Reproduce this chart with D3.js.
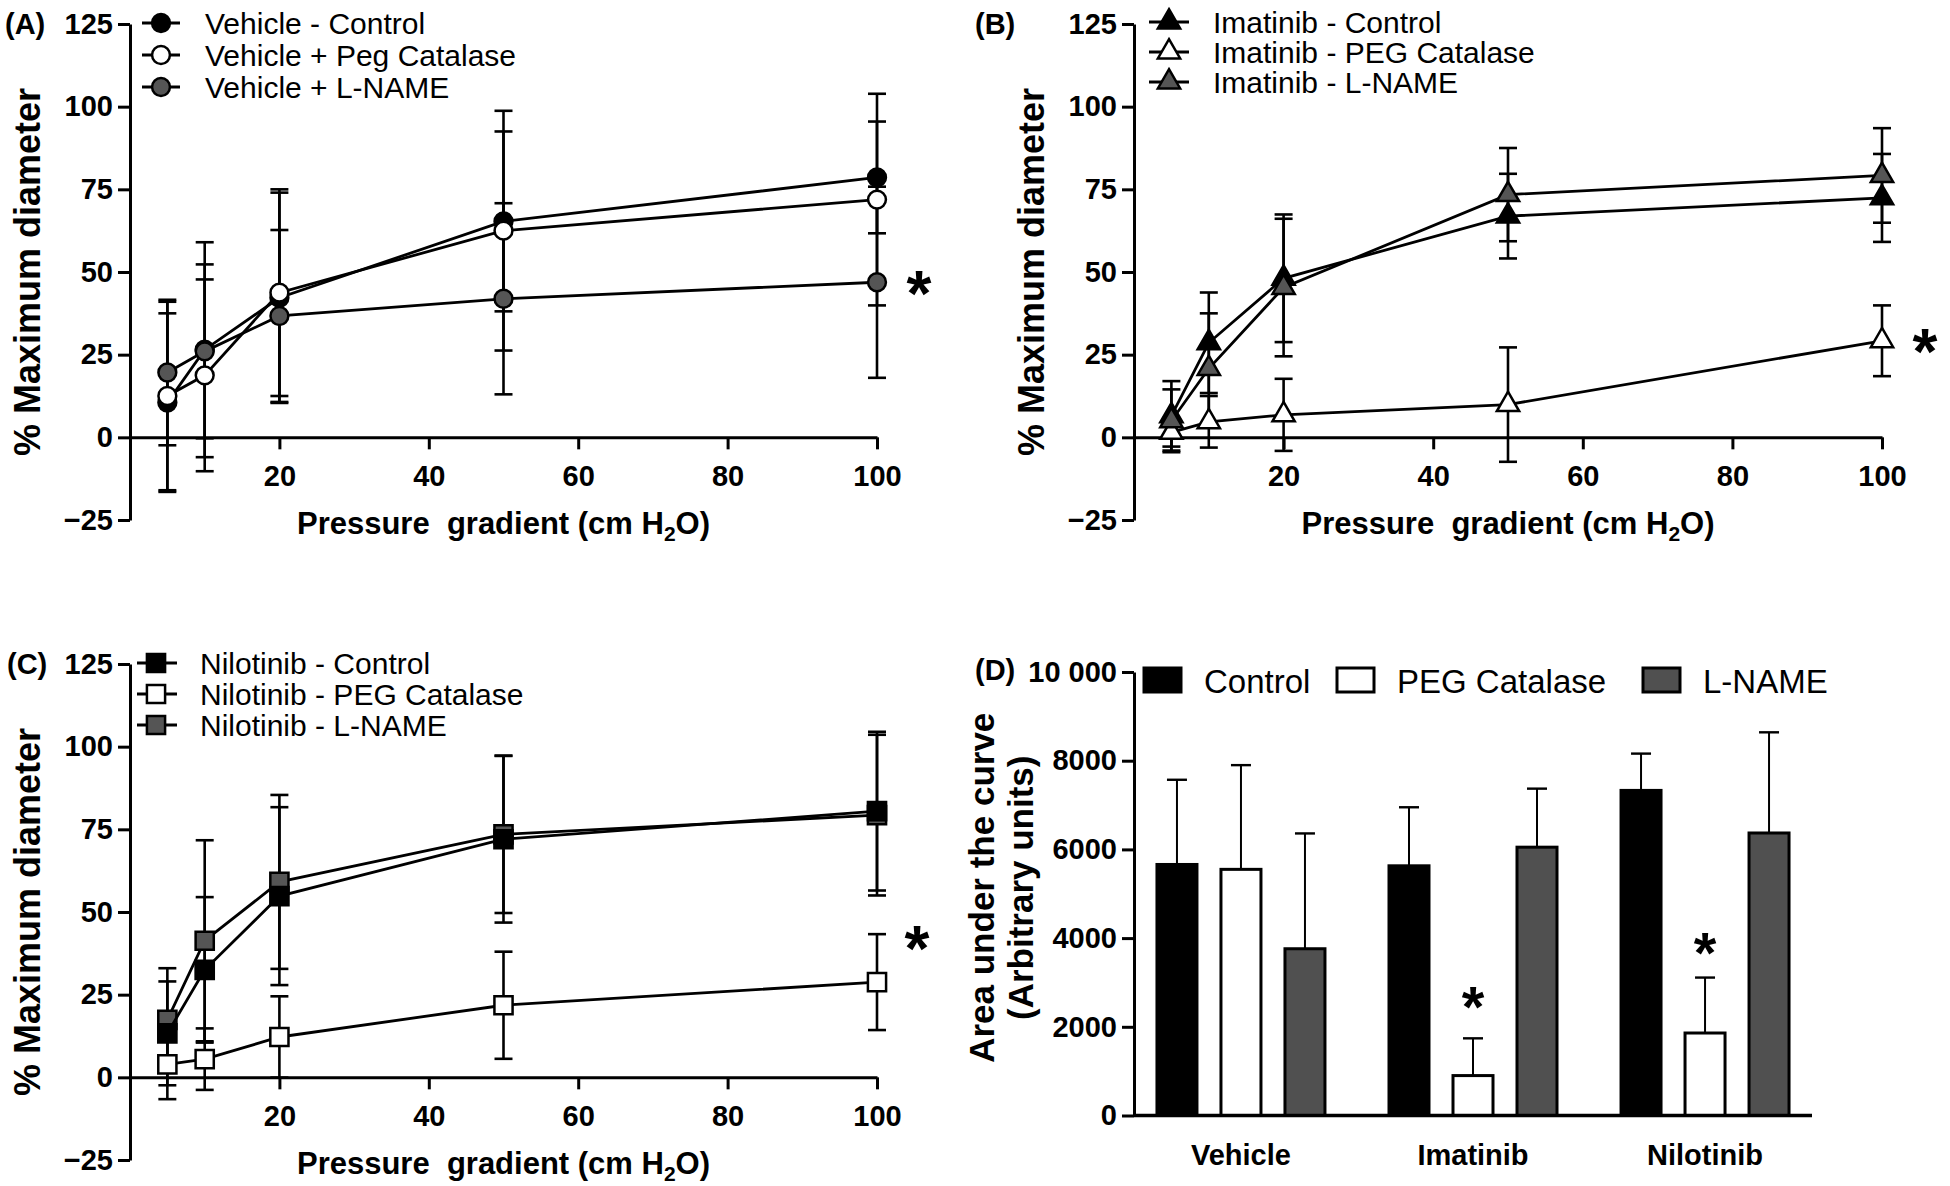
<!DOCTYPE html>
<html><head><meta charset="utf-8">
<script src="https://cdn.jsdelivr.net/npm/d3@7"></script>
<style>
html,body{margin:0;padding:0;background:#fff;}
svg{display:block;}
text{font-family:"Liberation Sans", Arial, Helvetica, sans-serif;fill:#000;}
</style></head><body>
<script>
// ---------- DATA ----------
const pressures = [5, 10, 20, 50, 100];
const xTickValues = [20, 40, 60, 80, 100];
const yTickValues = [-25, 0, 25, 50, 75, 100, 125];

// Panel A – Vehicle
const vehicleControl = [10.5, 26.5, 42.2, 65.3, 78.6];
const vehicleControlSD = [27, 32.5, 31.8, 27.2, 16.9];
const vehiclePeg = [12.5, 18.75, 43.75, 62.5, 71.9];
const vehiclePegSD = [28.5, 29, 31.25, 36.25, 32];
const vehicleLname = [19.6, 26, 36.7, 41.9, 46.9];
const vehicleLnameSD = [22, 26.3, 26, 28.9, 28.9];
const vehicleLabels = ["Vehicle - Control", "Vehicle + Peg Catalase", "Vehicle + L-NAME"];

// Panel B – Imatinib
const imatinibControl = [6.5, 28.6, 48.1, 66.9, 72.4];
const imatinibControlSD = [10.5, 15.2, 19.3, 12.8, 13.3];
const imatinibPeg = [1.5, 4.7, 6.8, 9.9, 29.2];
const imatinibPegSD = [4.3, 7.8, 10.9, 17.3, 10.7];
const imatinibLname = [5, 20.8, 45.3, 73.4, 79.2];
const imatinibLnameSD = [9.5, 16.7, 20.8, 14.1, 14.3];
const imatinibLabels = ["Imatinib - Control", "Imatinib - PEG Catalase", "Imatinib - L-NAME"];

// Panel C – Nilotinib
const nilotinibControl = [13.3, 32.5, 54.8, 72, 80.5];
const nilotinibControlSD = [15.7, 22, 26.9, 25.2, 24];
const nilotinibPeg = [3.9, 5.5, 12.2, 21.8, 28.8];
const nilotinibPegSD = [10.5, 9.3, 12.3, 16.2, 14.5];
const nilotinibLname = [17.4, 41.3, 59.1, 73.5, 79.3];
const nilotinibLnameSD = [15.6, 30.4, 26.3, 23.8, 24.3];
const nilotinibLabels = ["Nilotinib - Control", "Nilotinib - PEG Catalase", "Nilotinib - L-NAME"];

// Panel D – Area under the curve
const aucGroups = ["Vehicle", "Imatinib", "Nilotinib"];
const aucSeries = ["Control", "PEG Catalase", "L-NAME"];
const aucControl = [5660, 5630, 7330];
const aucControlErr = [1910, 1320, 830];
const aucPeg = [5550, 900, 1860];
const aucPegErr = [2350, 840, 1250];
const aucLname = [3760, 6050, 6370];
const aucLnameErr = [2600, 1320, 2270];
const aucTickValues = [0, 2000, 4000, 6000, 8000, 10000];
const aucTickLabels = ["0", "2000", "4000", "6000", "8000", "10 000"];

// ---------- STYLE ----------
const GRAY = "#555555";
const svg = d3.select("body").append("svg").attr("width", 1950).attr("height", 1186);

function styleAxis(g, fs) {
  g.select(".domain").attr("stroke", "#000").attr("stroke-width", 3);
  g.selectAll(".tick line").attr("stroke", "#000").attr("stroke-width", 3);
  g.selectAll(".tick text").attr("font-size", fs).attr("font-weight", "bold").attr("fill", "#000");
}

function markerPath(type) {
  const sym = type === "circle" ? d3.symbolCircle : type === "triangle" ? d3.symbolTriangle : d3.symbolSquare;
  const size = type === "circle" ? 250 : type === "triangle" ? 215 : 330;
  return d3.symbol(sym, size)();
}

function linePanel(cfg) {
  const x = d3.scaleLinear([0, 100], [cfg.x0, cfg.x1]);
  const y = d3.scaleLinear([-25, 125], [cfg.yBot, cfg.yTop]);
  const g = svg.append("g");

  // axes
  const ya = g.append("g").attr("transform", `translate(${cfg.x0},0)`)
    .call(d3.axisLeft(y).tickValues(yTickValues).tickSize(12).tickSizeOuter(0).tickPadding(5).tickFormat(d3.format("d")));
  styleAxis(ya, 29);
  ya.selectAll(".tick text").text(d => d < 0 ? "\u221225" : d);
  const xa = g.append("g").attr("transform", `translate(0,${y(0)})`)
    .call(d3.axisBottom(x).tickValues(xTickValues).tickSize(12).tickSizeOuter(0).tickPadding(16));
  styleAxis(xa, 29);

  // titles
  g.append("text").attr("transform", `translate(${cfg.x0 - 103},${(cfg.yTop + cfg.yBot) / 2}) rotate(-90)`)
    .attr("text-anchor", "middle").attr("dominant-baseline", "central")
    .attr("font-size", 36).attr("font-weight", "bold").text("% Maximum diameter");
  const xt = g.append("text").attr("x", (cfg.x0 + cfg.x1) / 2).attr("y", cfg.yBot + 14)
    .attr("text-anchor", "middle").attr("font-size", 31).attr("font-weight", "bold")
    .style("white-space", "pre");
  xt.append("tspan").text("Pressure  gradient (cm H");
  xt.append("tspan").attr("font-size", 21).attr("dy", 7).text("2");
  xt.append("tspan").attr("dy", -7).text("O)");

  g.append("text").attr("x", cfg.letterX).attr("y", cfg.yTop).attr("dominant-baseline", "central")
    .attr("font-size", 29).attr("font-weight", "bold").text(cfg.letter);

  // series: error bars first, then lines and markers
  const line = d3.line().x((d, i) => x(pressures[i])).y(d => y(d));
  cfg.order.forEach(si => {
    const s = cfg.series[si];
    const sg = g.append("g");
    s.values.forEach((v, i) => {
      const cx = x(pressures[i]);
      sg.append("line").attr("x1", cx).attr("x2", cx).attr("y1", y(v - s.sd[i])).attr("y2", y(v + s.sd[i]))
        .attr("stroke", "#000").attr("stroke-width", 2.6);
      [v - s.sd[i], v + s.sd[i]].forEach(e => sg.append("line").attr("x1", cx - 9).attr("x2", cx + 9)
        .attr("y1", y(e)).attr("y2", y(e)).attr("stroke", "#000").attr("stroke-width", 2.6));
    });
  });
  cfg.order.forEach(si => {
    const s = cfg.series[si];
    const sg = g.append("g");
    sg.append("path").attr("d", line(s.values)).attr("fill", "none").attr("stroke", "#000").attr("stroke-width", 2.8);
    s.values.forEach((v, i) => {
      sg.append("path").attr("d", markerPath(cfg.marker))
        .attr("transform", `translate(${x(pressures[i])},${y(v)})`)
        .attr("fill", s.fill).attr("stroke", "#000").attr("stroke-width", 2.5);
    });
  });

  // legend
  cfg.series.forEach((s, i) => {
    const ly = cfg.legendY + i * cfg.legendStep;
    g.append("line").attr("x1", cfg.x0 + cfg.legLine[0]).attr("x2", cfg.x0 + cfg.legLine[1])
      .attr("y1", ly).attr("y2", ly).attr("stroke", "#000").attr("stroke-width", 2.8);
    g.append("path").attr("d", markerPath(cfg.marker))
      .attr("transform", `translate(${cfg.x0 + cfg.legLine[2]},${ly})`)
      .attr("fill", s.fill).attr("stroke", "#000").attr("stroke-width", 2.5);
    g.append("text").attr("x", cfg.x0 + cfg.legLine[3]).attr("y", ly).attr("dominant-baseline", "central")
      .attr("font-size", 30).text(s.label);
  });

  // significance star
  g.append("text").attr("x", x(100) + cfg.starDx).attr("y", y(cfg.starV)).attr("text-anchor", "middle")
    .attr("dy", "0.56em").attr("font-size", 64).attr("font-weight", "bold").text("*");
}

linePanel({
  letter: "(A)", letterX: 5, x0: 130, x1: 877, yTop: 24, yBot: 520, marker: "circle",
  legendY: 23, legendStep: 32, legLine: [12, 50, 31, 75], order: [0, 1, 2],
  starDx: 42, starV: 47.5,
  series: [
    { values: vehicleControl, sd: vehicleControlSD, fill: "#000", label: vehicleLabels[0] },
    { values: vehiclePeg, sd: vehiclePegSD, fill: "#fff", label: vehicleLabels[1] },
    { values: vehicleLname, sd: vehicleLnameSD, fill: GRAY, label: vehicleLabels[2] }
  ]
});
linePanel({
  letter: "(B)", letterX: 975, x0: 1134, x1: 1882, yTop: 24, yBot: 520, marker: "triangle",
  legendY: 22, legendStep: 30, legLine: [15, 55, 35, 79], order: [0, 1, 2],
  starDx: 43, starV: 30,
  series: [
    { values: imatinibControl, sd: imatinibControlSD, fill: "#000", label: imatinibLabels[0] },
    { values: imatinibPeg, sd: imatinibPegSD, fill: "#fff", label: imatinibLabels[1] },
    { values: imatinibLname, sd: imatinibLnameSD, fill: GRAY, label: imatinibLabels[2] }
  ]
});
linePanel({
  letter: "(C)", letterX: 7, x0: 130, x1: 877, yTop: 664, yBot: 1160, marker: "square",
  legendY: 663, legendStep: 31, legLine: [7, 47, 26, 70], order: [2, 1, 0],
  starDx: 40, starV: 43,
  series: [
    { values: nilotinibControl, sd: nilotinibControlSD, fill: "#000", label: nilotinibLabels[0] },
    { values: nilotinibPeg, sd: nilotinibPegSD, fill: "#fff", label: nilotinibLabels[1] },
    { values: nilotinibLname, sd: nilotinibLnameSD, fill: GRAY, label: nilotinibLabels[2] }
  ]
});

// ---------- PANEL D ----------
(function () {
  const x0 = 1134, x1 = 1812, yTop = 672, yBot = 1115.5;
  const y = d3.scaleLinear([0, 10000], [yBot, yTop]);
  const gx = d3.scalePoint(aucGroups, [x0, x1]).padding(0.461);
  const bx = d3.scaleBand(aucSeries, [-96, 96]).paddingInner(0.375).paddingOuter(0.1875);
  const g = svg.append("g");
  const series = [
    { name: aucSeries[0], vals: aucControl, err: aucControlErr, fill: "#000" },
    { name: aucSeries[1], vals: aucPeg, err: aucPegErr, fill: "#fff" },
    { name: aucSeries[2], vals: aucLname, err: aucLnameErr, fill: "#505050" }
  ];
  // error bars (upward only)
  series.forEach(s => s.vals.forEach((v, i) => {
    const cx = gx(aucGroups[i]) + bx(s.name) + bx.bandwidth() / 2;
    g.append("line").attr("x1", cx).attr("x2", cx).attr("y1", y(v)).attr("y2", y(v + s.err[i]))
      .attr("stroke", "#000").attr("stroke-width", 2);
    g.append("line").attr("x1", cx - 10).attr("x2", cx + 10).attr("y1", y(v + s.err[i])).attr("y2", y(v + s.err[i]))
      .attr("stroke", "#000").attr("stroke-width", 2.4);
  }));
  series.forEach(s => s.vals.forEach((v, i) => {
    g.append("rect").attr("x", gx(aucGroups[i]) + bx(s.name)).attr("width", bx.bandwidth())
      .attr("y", y(v)).attr("height", y(0) - y(v))
      .attr("fill", s.fill).attr("stroke", "#000").attr("stroke-width", 3);
  }));
  const ya = g.append("g").attr("transform", `translate(${x0},0)`)
    .call(d3.axisLeft(y).tickValues(aucTickValues).tickSize(12).tickSizeOuter(0).tickPadding(5)
      .tickFormat((d, i) => aucTickLabels[i]));
  styleAxis(ya, 29);
  g.append("line").attr("x1", x0).attr("x2", x1).attr("y1", y(0)).attr("y2", y(0))
    .attr("stroke", "#000").attr("stroke-width", 3.5);
  aucGroups.forEach(gr => g.append("text").attr("x", gx(gr)).attr("y", yBot + 39).attr("dominant-baseline", "central")
    .attr("text-anchor", "middle").attr("font-size", 29).attr("font-weight", "bold").text(gr));
  // y title
  const t = g.append("text").attr("transform", `translate(${x0 - 152},${(yTop + yBot) / 2 - 6}) rotate(-90)`)
    .attr("text-anchor", "middle").attr("font-size", 35).attr("font-weight", "bold");
  t.append("tspan").attr("x", 0).attr("dy", "0.35em").text("Area under the curve");
  t.append("tspan").attr("x", 0).attr("dy", "1.1em").text("(Arbitrary units)");
  g.append("text").attr("x", 975).attr("y", yTop - 2).attr("dominant-baseline", "central")
    .attr("font-size", 29).attr("font-weight", "bold").text("(D)");
  // legend
  const legX = [1144, 1337, 1643];
  series.forEach((s, i) => {
    g.append("rect").attr("x", legX[i]).attr("y", 668).attr("width", 37).attr("height", 24)
      .attr("fill", s.fill).attr("stroke", "#000").attr("stroke-width", 3);
    g.append("text").attr("x", legX[i] + 60).attr("y", 681).attr("dominant-baseline", "central")
      .attr("font-size", 33).text(s.name);
  });
  // stars
  [[1, 2717], [2, 3935]].forEach(([gi, v]) => {
    g.append("text").attr("x", gx(aucGroups[gi]) + bx(aucSeries[1]) + bx.bandwidth() / 2).attr("y", y(v))
      .attr("text-anchor", "middle").attr("dy", "0.56em").attr("font-size", 58).attr("font-weight", "bold").text("*");
  });
})();
</script>
</body></html>
